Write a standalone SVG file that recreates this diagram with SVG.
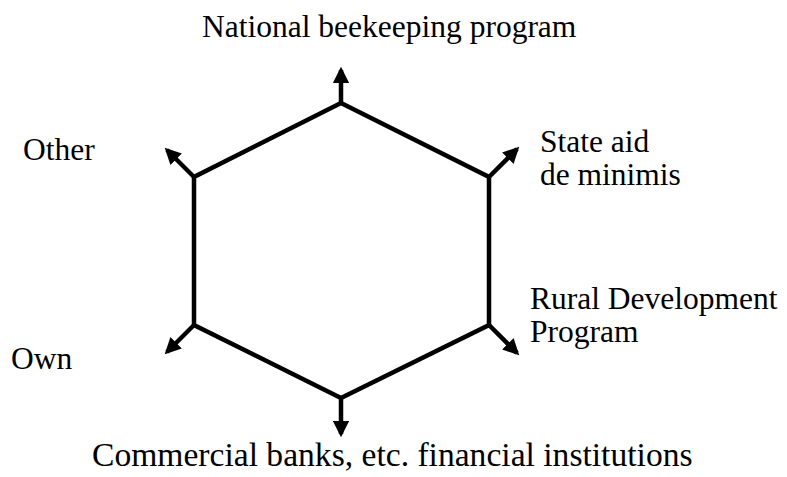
<svg xmlns="http://www.w3.org/2000/svg" width="787" height="477" viewBox="0 0 787 477">
<defs>
<marker id="ah" viewBox="0 0 10 10" refX="8" refY="5" markerWidth="3.8" markerHeight="3.6" orient="auto" markerUnits="strokeWidth">
<path d="M0,0 L10,5 L0,10 z" fill="#000"/>
</marker>
<style>
.t{font-family:"Liberation Serif","Times New Roman",serif;font-size:31.5px;fill:#000}
.e{stroke:#000;stroke-width:4.5;fill:none}
.a{stroke:#000;stroke-width:4.5;fill:none;marker-end:url(#ah)}
</style>
</defs>
<rect width="787" height="477" fill="#fff"/>
<g id="hexagon">
<polygon class="e" stroke-linejoin="miter" points="341,103 489,177 489,325 341,398 194,325 194,177"/>
</g>
<g id="connectors">
<line class="a" x1="341" y1="103" x2="341" y2="70"/>
<line class="a" x1="489" y1="177" x2="517" y2="149"/>
<line class="a" x1="489" y1="325" x2="517" y2="353"/>
<line class="a" x1="341" y1="398" x2="341" y2="434"/>
<line class="a" x1="194" y1="325" x2="167" y2="352"/>
<line class="a" x1="194" y1="177" x2="167" y2="150"/>
</g>
<g id="national"><text class="t" x="202" y="37">National beekeeping program</text></g>
<g id="stateaid"><text class="t" x="540" y="152">State aid</text><text class="t" x="540" y="185">de minimis</text></g>
<g id="rural"><text class="t" x="530" y="309">Rural Development</text><text class="t" x="530" y="342">Program</text></g>
<g id="commercial"><text class="t" x="92" y="466" style="font-size:33.6px">Commercial banks, etc. financial institutions</text></g>
<g id="own"><text class="t" x="11" y="369">Own</text></g>
<g id="other"><text class="t" x="23" y="160">Other</text></g>
</svg>
